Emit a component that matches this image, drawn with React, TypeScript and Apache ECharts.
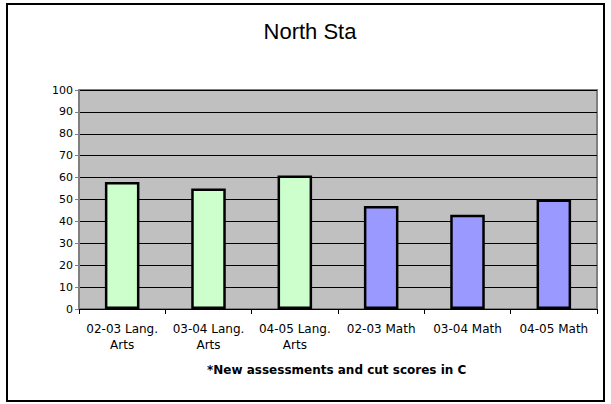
import React, { useEffect, useRef } from "react";
import * as echarts from "echarts";

const categories = [
  "02-03 Lang.\nArts",
  "03-04 Lang.\nArts",
  "04-05 Lang.\nArts",
  "02-03 Math",
  "03-04 Math",
  "04-05 Math",
];
const values = [58, 55, 61, 47, 43, 50];
const barColors = ["#CCFFCC", "#CCFFCC", "#CCFFCC", "#9999FF", "#9999FF", "#9999FF"];
const titleText = "North Sta";
const footnote = "*New assessments and cut scores in C";

export default function App() {
  const ref = useRef<HTMLDivElement>(null);
  useEffect(() => {
    document.body.style.margin = "0";
    if (!ref.current) return;
    const chart = echarts.init(ref.current, null, { renderer: "svg" });
    chart.setOption({
      animation: false,
      backgroundColor: "#ffffff",
      textStyle: { fontFamily: "DejaVu Sans" },
      grid: {
        left: 79,
        right: 14,
        top: 90,
        bottom: 95,
        show: true,
        backgroundColor: "#C0C0C0",
        borderColor: "#808080",
        borderWidth: 2,
      },
      xAxis: {
        type: "category",
        data: categories,
        axisLine: { lineStyle: { color: "#000000", width: 1 } },
        axisTick: { show: true, interval: 0, length: 5, lineStyle: { color: "#000000" } },
        axisLabel: {
          interval: 0,
          color: "#000000",
          fontSize: 12,
          lineHeight: 16,
          margin: 12,
          fontFamily: "DejaVu Sans",
        },
      },
      yAxis: {
        type: "value",
        min: 0,
        max: 100,
        interval: 10,
        axisLine: { show: true, lineStyle: { color: "#808080", width: 1 } },
        axisTick: { show: true, length: 4, lineStyle: { color: "#808080" } },
        axisLabel: { color: "#000000", fontSize: 11, margin: 6, fontFamily: "DejaVu Sans" },
        splitLine: { show: true, lineStyle: { color: "#000000", width: 1 } },
      },
      series: [
        {
          type: "bar",
          barWidth: "40%",
          data: values.map((v, i) => ({
            value: v,
            itemStyle: { color: barColors[i], borderColor: "#000000", borderWidth: 2.5 },
          })),
        },
      ],
      graphic: [
        {
          type: "rect",
          shape: { x: 7, y: 4, width: 597, height: 397 },
          style: { fill: "none", stroke: "#000000", lineWidth: 2 },
          silent: true,
        },
        {
          type: "text",
          x: 310,
          y: 31,
          style: {
            text: titleText,
            fontSize: 22,
            fontFamily: "Liberation Sans",
            fill: "#000000",
            textAlign: "center",
            textVerticalAlign: "middle",
          },
        },
        {
          type: "text",
          x: 207,
          y: 370,
          style: {
            text: footnote,
            fontSize: 12,
            fontWeight: "bold",
            fontFamily: "DejaVu Sans",
            fill: "#000000",
            textAlign: "left",
            textVerticalAlign: "middle",
          },
        },
      ],
    });
    return () => chart.dispose();
  }, []);
  return <div ref={ref} style={{ width: 611, height: 404 }} />;
}
